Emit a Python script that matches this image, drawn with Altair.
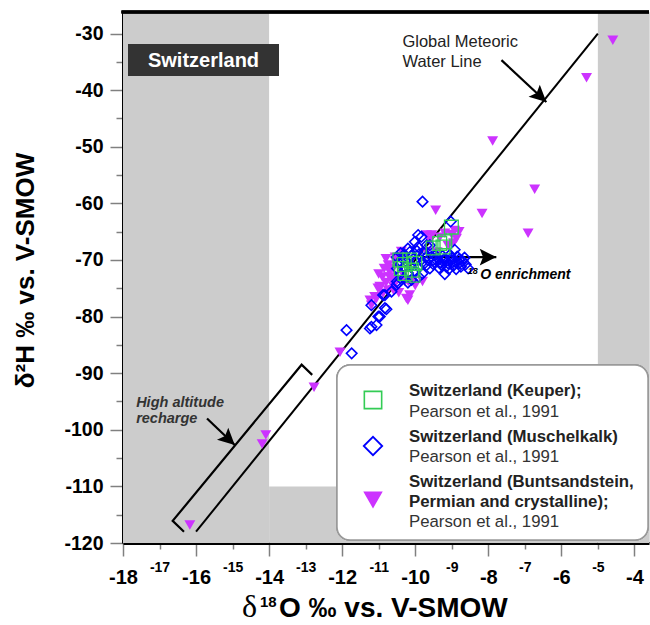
import altair as alt
import pandas as pd

# --- Isotope data, Pearson et al., 1991 (delta18O, delta2H in permil vs V-SMOW) ---
keuper_o = [-9.01, -9.33, -9.51, -9.24, -9.19, -10.42, -10.15, -10.01, -10.38, -10.10, -10.06, -10.28, -10.30]
keuper_h = [-64.2, -67.1, -67.9, -67.7, -66.8, -70.0, -70.0, -70.6, -71.5, -71.8, -72.7, -72.4, -70.8]

muschel_o = [-9.80, -9.03, -11.88, -11.74, -11.20, -11.24, -11.01, -11.06, -10.79, -10.83, -10.47, -10.65,
             -10.51, -10.88, -10.83, -10.97, -11.20,
             -9.92, -10.01, -9.69, -9.83, -9.92, -9.60, -10.20, -10.40,
             -10.50, -10.30, -10.10, -9.90, -9.70, -10.45, -10.25, -10.00, -9.80, -9.65, -10.50, -10.30, -10.10,
             -9.90, -9.70, -10.40, -10.20, -10.00, -9.80, -10.30, -10.10, -9.90, -10.50, -10.20,
             -9.40, -9.20, -9.00, -8.80, -9.30, -9.10, -8.90, -8.70, -9.35, -9.15, -8.95, -9.19, -8.55, -8.92,
             -9.50, -9.60,
             -9.45, -9.25, -9.05, -8.85, -8.65, -9.40, -9.20, -9.00, -8.80, -8.62, -9.28, -9.08, -8.88, -8.75,
             -9.55, -9.50, -10.35, -10.15, -9.95, -9.75]
muschel_h = [-59.7, -63.2, -82.4, -86.5, -78.0, -82.1, -80.0, -81.5, -78.7, -76.2, -74.1, -75.6,
             -74.4, -76.2, -78.5, -80.0, -81.8,
             -65.6, -66.8, -67.4, -65.9, -67.7, -67.4, -68.0, -68.8,
             -69.5, -69.0, -69.3, -69.0, -69.5, -70.5, -70.3, -70.2, -70.4, -70.0, -71.5, -71.2, -71.0,
             -71.3, -71.0, -72.5, -72.3, -72.0, -72.4, -73.2, -73.5, -73.0, -73.8, -74.0,
             -69.6, -69.8, -69.6, -69.9, -70.5, -70.6, -70.4, -70.2, -71.4, -71.2, -71.0, -72.5, -71.5, -68.2,
             -70.0, -71.5,
             -69.2, -69.3, -69.1, -69.4, -69.6, -70.2, -70.1, -70.0, -70.6, -70.8, -70.9, -71.6, -71.6, -71.2,
             -69.4, -70.8, -69.8, -68.6, -68.4, -68.8]

bunt_o = [-4.59, -5.31, -7.88, -6.73, -8.17, -6.91, -9.44,
          -16.17, -14.09, -14.19, -12.77, -12.06,
          -8.92, -8.87, -9.00, -9.19, -9.55, -9.69, -9.33, -9.69, -9.40, -8.95,
          -10.38, -10.55, -10.74, -10.70, -10.60, -10.70, -10.50, -10.97, -10.60, -10.19, -10.97, -10.60,
          -10.15, -10.24, -11.11, -11.24, -11.02, -10.88, -10.75, -10.65, -10.28, -10.06, -10.33, -11.06,
          -10.20, -11.20, -10.00, -9.80,
          -10.85, -10.90, -10.80, -11.00, -10.55, -10.45, -9.10, -8.80, -9.60, -10.80]
bunt_h = [-31.2, -37.8, -49.0, -57.5, -61.8, -65.3, -61.2,
          -116.8, -100.9, -102.5, -92.5, -86.3,
          -64.8, -66.2, -65.5, -65.3, -65.6, -65.6, -66.0, -68.5, -68.6, -67.0,
          -68.5, -69.5, -70.9, -72.1, -71.5, -73.0, -73.5, -74.7, -74.7, -73.8, -75.0, -75.3,
          -76.2, -76.8, -76.5, -77.1, -75.0, -75.9, -75.3, -73.5, -73.8, -73.5, -72.6, -76.8,
          -77.1, -78.0, -74.5, -73.8,
          -71.5, -73.0, -74.0, -72.5, -70.2, -75.8, -67.5, -65.0, -66.5, -69.8]

# Global Meteoric Water Line end points
gmwl_o = [-16.0, -5.0]
gmwl_h = [-118.0, -30.0]

# bracket marking the high-altitude recharge band
bracket_o = [-16.33, -16.64, -13.11, -12.82]
bracket_h = [-118.0, -116.1, -88.5, -90.3]

# annotation arrows: start -> tip, heading in degrees (clockwise from +x)
arrow_o0 = [-7.64, -15.70, -9.87]
arrow_h0 = [-34.7, -98.0, -69.5]
arrow_o1 = [-6.41, -14.94, -7.78]
arrow_h1 = [-42.1, -102.7, -69.5]
arrow_ang = [42.8, 42.9, 0.0]

# shaded areas outside the range of the figure's focus
shade_o0 = [-18.0, -5.0, -14.0]
shade_o1 = [-14.0, -3.6, -5.0]
shade_h0 = [-120.0, -120.0, -120.0]
shade_h1 = [-26.2, -26.2, -110.0]

X_MIN, X_MAX = -18.0, -3.6
Y_MIN, Y_MAX = -120.0, -26.2
W, H = 526, 531
FONT = "Liberation Sans"

xs = alt.Scale(domain=[X_MIN, X_MAX], nice=False, zero=False)
ys = alt.Scale(domain=[Y_MIN, Y_MAX], nice=False, zero=False)

x_axis = alt.Axis(
    values=list(range(-18, -3)),
    labelExpr="'-' + abs(datum.value)",
    labelFontSize={"condition": {"test": "datum.value % 2 === 0", "value": 20}, "value": 14},
    tickSize={"condition": {"test": "datum.value % 2 === 0", "value": 13}, "value": 6},
    labelFont=FONT, labelFontWeight="bold", labelColor="black",
    labelBaseline="top", labelPadding=11, labelFlush=False, labelOverlap=False, labelBound=False,
    tickColor="#808080", tickWidth=1.5, domainColor="black", domainWidth=3, grid=False,
    title=None,
)
y_axis = alt.Axis(
    values=list(range(-120, -25, 5)),
    labelExpr="datum.value % 10 === 0 ? '-' + abs(datum.value) : ''",
    tickSize={"condition": {"test": "datum.value % 10 === 0", "value": 13}, "value": 7},
    labelFont=FONT, labelFontWeight="bold", labelFontSize=19.5, labelColor="black",
    labelPadding=7, labelFlush=False, labelOverlap=False, labelBound=False,
    tickColor="#808080", tickWidth=1.5, domainColor="black", domainWidth=3, grid=False,
    title="δ²H ‰ vs. V-SMOW", titleFont=FONT, titleFontSize=26, titleFontWeight="bold",
    titleColor="black", titleX=-98, titleY=258, titleAngle=270,
    titleBaseline="middle", titleAlign="center",
)

X = alt.X("x:Q", scale=xs, axis=x_axis)
Y = alt.Y("y:Q", scale=ys, axis=y_axis)


def pts(o, h):
    return pd.DataFrame({"x": o, "y": h})


shade_df = pd.DataFrame({"x": shade_o0, "x2": shade_o1, "y": shade_h0, "y2": shade_h1})
shade = alt.Chart(shade_df).mark_rect(color="#cccccc", clip=True).encode(
    x=X, x2="x2:Q", y=Y, y2="y2:Q"
)

top_border = alt.Chart(shade_df).mark_rule(color="black", strokeWidth=3).encode(
    x=alt.value(-1.5), x2=alt.value(W), y=alt.value(0)
)

place_box = alt.Chart(shade_df).mark_rect(color="#333333").encode(
    x=alt.value(5), x2=alt.value(156), y=alt.value(32), y2=alt.value(64)
)
place_text = alt.Chart(pd.DataFrame({"t": ["Switzerland"]})).mark_text(
    font=FONT, fontSize=20, fontWeight="bold", color="white", align="center", baseline="middle"
).encode(x=alt.value(80.5), y=alt.value(49), text="t:N")

gmwl = alt.Chart(pd.DataFrame({"x": gmwl_o, "y": gmwl_h, "i": [0, 1]})).mark_line(
    color="black", strokeWidth=2
).encode(x=X, y=Y, order="i:Q")

bracket = alt.Chart(pd.DataFrame({"x": bracket_o, "y": bracket_h, "i": [0, 1, 2, 3]})).mark_line(
    color="black", strokeWidth=2.2
).encode(x=X, y=Y, order="i:Q")

arrows_df = pd.DataFrame({"x": arrow_o0, "y": arrow_h0, "x2": arrow_o1, "y2": arrow_h1,
                          "xt": arrow_o1, "yt": arrow_h1, "ang": arrow_ang})
shafts = alt.Chart(arrows_df).mark_rule(color="black", strokeWidth=2.2).encode(
    x=X, y=Y, x2="x2:Q", y2="y2:Q"
)
heads = alt.Chart(arrows_df).mark_point(
    shape="M0,0L-1,-0.5L-0.8,0L-1,0.5Z", filled=True, color="black", opacity=1, size=1100
).encode(
    x=alt.X("xt:Q", scale=xs, axis=x_axis), y=alt.Y("yt:Q", scale=ys, axis=y_axis),
    angle=alt.Angle("ang:Q", scale=None),
)

tri = alt.Chart(pts(bunt_o, bunt_h)).mark_point(
    shape="triangle-down", filled=True, color="#cc33ff", opacity=1, size=120
).encode(x=X, y=Y)
dia = alt.Chart(pts(muschel_o, muschel_h)).mark_point(
    shape="diamond", filled=False, color="#0000ff", opacity=1, size=110, strokeWidth=1.6
).encode(x=X, y=Y)
sq = alt.Chart(pts(keuper_o, keuper_h)).mark_point(
    shape="square", filled=False, color="#33cc55", opacity=1, size=190, strokeWidth=1.3
).encode(x=X, y=Y)

gmwl_lbl = alt.Chart(pd.DataFrame({"x": [-10.35, -10.35], "y": [-31.5, -35.0],
                                   "t": ["Global Meteoric", "Water Line"]})).mark_text(
    font=FONT, fontSize=16.5, color="#222222", align="left", baseline="middle"
).encode(x=X, y=Y, text="t:N")
alt_lbl = alt.Chart(pd.DataFrame({"x": [-17.64, -17.64], "y": [-95.2, -98.1],
                                  "t": ["High altitude", "recharge"]})).mark_text(
    font=FONT, fontSize=14.5, fontWeight="bold", fontStyle="italic", color="#333333",
    align="left", baseline="middle"
).encode(x=X, y=Y, text="t:N")
enr_sup = alt.Chart(pd.DataFrame({"x": [-8.56], "y": [-71.9], "t": ["18"]})).mark_text(
    font=FONT, fontSize=9, fontWeight="bold", fontStyle="italic", color="black",
    align="left", baseline="middle"
).encode(x=X, y=Y, text="t:N")
enr_lbl = alt.Chart(pd.DataFrame({"x": [-8.22], "y": [-72.65], "t": ["O enrichment"]})).mark_text(
    font=FONT, fontSize=14, fontWeight="bold", fontStyle="italic", color="black",
    align="left", baseline="middle"
).encode(x=X, y=Y, text="t:N")

# x-axis title, with a true superscript on the isotope mass number
xt_delta = alt.Chart(pd.DataFrame({"t": ["δ"]})).mark_text(
    font="Liberation Serif", fontSize=32, color="black", align="left", baseline="alphabetic"
).encode(x=alt.value(119), y=alt.value(605), text="t:N")
xt_sup = alt.Chart(pd.DataFrame({"t": ["18"]})).mark_text(
    font=FONT, fontSize=15, fontWeight="bold", color="black", align="left", baseline="alphabetic"
).encode(x=alt.value(137), y=alt.value(595), text="t:N")
xt_main = alt.Chart(pd.DataFrame({"t": ["O ‰ vs. V-SMOW"]})).mark_text(
    font=FONT, fontSize=28, fontWeight="bold", color="black", align="left", baseline="alphabetic"
).encode(x=alt.value(156), y=alt.value(605), text="t:N")

# --- hand-built legend panel ---
legend_box = alt.Chart(shade_df).mark_rect(
    fill="white", stroke="#999999", strokeWidth=1.5, cornerRadius=13
).encode(x=alt.value(214), x2=alt.value(525), y=alt.value(353), y2=alt.value(528))

leg_sq = alt.Chart(pd.DataFrame({"k": [0]})).mark_point(
    shape="square", filled=False, color="#33cc55", opacity=1, size=300, strokeWidth=1.6
).encode(x=alt.value(250), y=alt.value(388))
leg_dia = alt.Chart(pd.DataFrame({"k": [0]})).mark_point(
    shape="diamond", filled=False, color="#0000ff", opacity=1, size=340, strokeWidth=1.8
).encode(x=alt.value(250), y=alt.value(434))
leg_tri = alt.Chart(pd.DataFrame({"k": [0]})).mark_point(
    shape="triangle-down", filled=True, color="#cc33ff", opacity=1, size=380
).encode(x=alt.value(250), y=alt.value(488))

leg_bold_t = ["Switzerland (Keuper);", "Switzerland (Muschelkalk)",
              "Switzerland (Buntsandstein,", "Permian and crystalline);"]
leg_bold_y = [378.7, 424.7, 469.7, 489.7]
leg_ref_t = ["Pearson et al., 1991", "Pearson et al., 1991", "Pearson et al., 1991"]
leg_ref_y = [399.7, 444.5, 509.7]

leg_bold = alt.Chart(pd.DataFrame({"t": leg_bold_t, "py": leg_bold_y})).mark_text(
    font=FONT, fontSize=16.8, fontWeight="bold", color="#222222", align="left", baseline="middle"
).encode(x=alt.value(286), y=alt.Y("py:Q", scale=None), text="t:N")
leg_ref = alt.Chart(pd.DataFrame({"t": leg_ref_t, "py": leg_ref_y})).mark_text(
    font=FONT, fontSize=16.8, color="#333333", align="left", baseline="middle"
).encode(x=alt.value(286), y=alt.Y("py:Q", scale=None), text="t:N")

chart = alt.layer(
    shade, top_border, place_box, place_text, gmwl, bracket, shafts, heads,
    tri, dia, sq, gmwl_lbl, alt_lbl, enr_sup, enr_lbl,
    legend_box, leg_sq, leg_dia, leg_tri, leg_bold, leg_ref,
    xt_delta, xt_sup, xt_main,
).properties(
    width=W, height=H,
    autosize=alt.AutoSizeParams(type="none"),
    padding={"left": 123, "top": 12, "right": 1, "bottom": 82},
).configure_view(stroke=None).configure(background="white")

chart.save("out.html", embed_options={"renderer": "svg", "actions": False})
